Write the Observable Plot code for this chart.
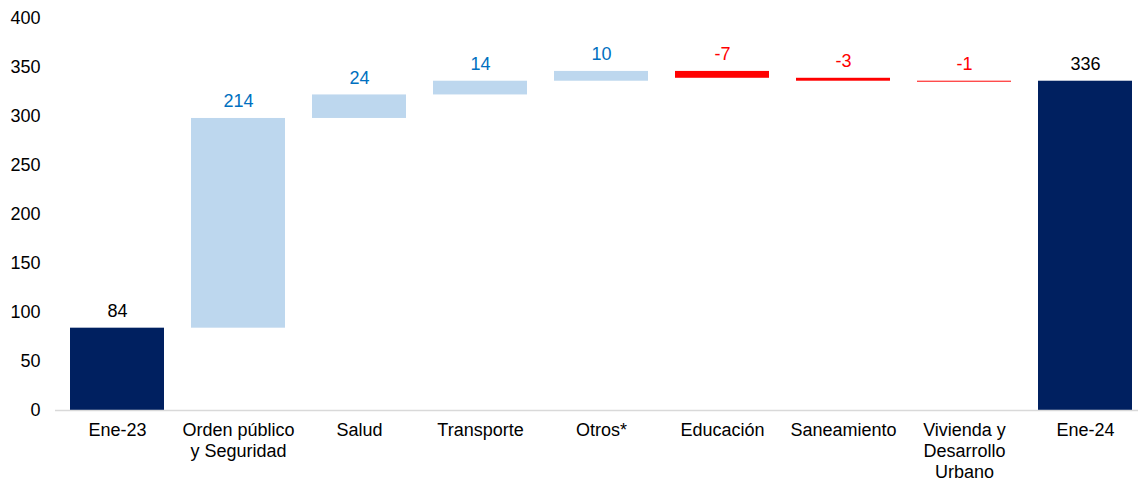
<!DOCTYPE html>
<html>
<head>
<meta charset="utf-8">
<script src="https://cdn.jsdelivr.net/npm/d3@7"></script>
<script src="https://cdn.jsdelivr.net/npm/@observablehq/plot@0.6"></script>
<style>
  html, body { margin: 0; padding: 0; background: #fff; }
  #chart { width: 1138px; height: 481px; }
</style>
</head>
<body>
<div id="chart"></div>
<script>
const categories = ["Ene-23", "Orden público\ny Seguridad", "Salud", "Transporte", "Otros*", "Educación", "Saneamiento", "Vivienda y\nDesarrollo\nUrbano", "Ene-24"];
const values = [84, 214, 24, 14, 10, -7, -3, -1, 336];
const kinds = ["total", "delta", "delta", "delta", "delta", "delta", "delta", "delta", "total"];
const yTicks = [0, 50, 100, 150, 200, 250, 300, 350, 400];

let running = 0;
const rows = categories.map((c, i) => {
  let y1, y2;
  if (kinds[i] === "total") { y1 = 0; y2 = values[i]; running = values[i]; }
  else { y1 = running; y2 = running + values[i]; running = y2; }
  const type = kinds[i] === "total" ? "total" : (values[i] >= 0 ? "up" : "down");
  return { cat: c, y1, y2, top: Math.max(y1, y2), label: String(values[i]), type };
});

const fill = { total: "#002060", up: "#BDD7EE", down: "#FF0000" };
const textFill = { total: "#000000", up: "#0070C0", down: "#FF0000" };

const plot = Plot.plot({
  width: 1138,
  height: 481,
  marginLeft: 55,
  marginRight: -9,
  marginTop: 18,
  marginBottom: 71,
  style: { fontFamily: "'Liberation Sans', Arial, sans-serif", fontSize: "18px", color: "#000", background: "#fff" },
  x: { domain: categories, paddingInner: 0.225, paddingOuter: 0.1125, label: null },
  y: { domain: [0, 400], label: null },
  marks: [
    Plot.axisY({ ticks: yTicks, tickSize: 0, tickPadding: 15, label: null, fontSize: 18 }),
    Plot.axisX({ tickSize: 0, tickPadding: 11, label: null, fontSize: 18, lineHeight: 1.15 }),
    Plot.barY(rows, { x: "cat", y1: "y1", y2: "y2", fill: d => fill[d.type] }),
    Plot.ruleY([0], { stroke: "#d9d9d9", strokeWidth: 1.5 }),
    Plot.text(rows, { x: "cat", y: "top", text: "label", dy: -17, fill: d => textFill[d.type], fontSize: 18 })
  ]
});
document.getElementById("chart").appendChild(plot);
</script>
</body>
</html>
